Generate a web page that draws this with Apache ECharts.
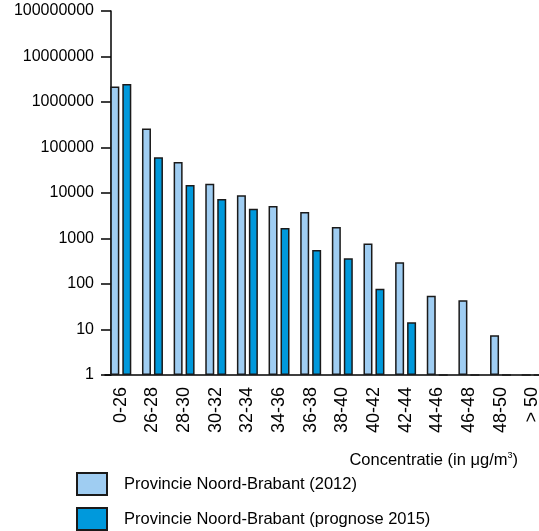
<!DOCTYPE html>
<html><head><meta charset="utf-8">
<script src="https://cdn.jsdelivr.net/npm/echarts@6/dist/echarts.min.js"></script>
<style>html,body{margin:0;padding:0;background:#fff}#c{width:539px;height:531px}</style>
</head><body><div id="c"></div>
<script>
const categories = ['0-26','26-28','28-30','30-32','32-34','34-36','36-38','38-40','40-42','42-44','44-46','46-48','48-50','> 50'];
const values2012 = [2200000, 260000, 48000, 16000, 8900, 5200, 3800, 1800, 780, 300, 55, 44, 7.5, 1];
const values2015 = [2500000, 61000, 15000, 7400, 4500, 1700, 560, 366, 79, 14.4, 1, 1, 1, 1];
const seriesNames = ['Provincie Noord-Brabant (2012)', 'Provincie Noord-Brabant (prognose 2015)'];

const FONT = 'Liberation Sans, Arial, sans-serif';
const legendBase = {
  orient: 'vertical', left: 76, padding: 0, itemWidth: 30, itemHeight: 22,
  icon: 'rect',
  textStyle: {fontFamily: FONT, fontSize: 16.5, color: '#000', padding: [0, 0, 0, 12]}
};
const chart = echarts.init(document.getElementById('c'), null, {renderer: 'canvas'});
chart.setOption({
  animation: false,
  backgroundColor: '#fff',
  grid: {left: 105, width: 443, top: 11, bottom: 156, containLabel: false, outerBoundsMode: 'none'},
  legend: [
    Object.assign({}, legendBase, {top: 472, data: [seriesNames[0]]}),
    Object.assign({}, legendBase, {top: 507, data: [seriesNames[1]]})
  ],
  xAxis: {
    type: 'category', data: categories, boundaryGap: true,
    axisLine: {lineStyle: {color: '#000', width: 1.5}},
    axisTick: {show: false},
    axisLabel: {rotate: 90, margin: 12, fontSize: 18, fontFamily: FONT, color: '#000', interval: 0}
  },
  yAxis: {
    type: 'log', logBase: 10, min: 1, max: 100000000, interval: 1, offset: -6,
    axisLine: {show: true, lineStyle: {color: '#000', width: 1.5}},
    axisTick: {show: true, length: 10, lineStyle: {color: '#000', width: 1.5}},
    splitLine: {show: false},
    axisLabel: {margin: 17, fontSize: 16, fontFamily: FONT, color: '#000',
      formatter: v => String(Math.round(v))}
  },
  series: [
    {name: seriesNames[0], type: 'bar', data: values2012, barWidth: 9, barGap: '33%',
     itemStyle: {color: '#9fcdf2', borderColor: '#1a1a1a', borderWidth: 1.5}},
    {name: seriesNames[1], type: 'bar', data: values2015, barWidth: 9,
     itemStyle: {color: '#0099dc', borderColor: '#1a1a1a', borderWidth: 1.5}}
  ],
  graphic: [{
    type: 'text', x: 518, y: 469,
    style: {
      text: '{a|Concentratie (in μg/m}{s|3}{a|)}',
      align: 'right', verticalAlign: 'bottom',
      rich: {
        a: {fontFamily: FONT, fontSize: 16.5, fill: '#000', verticalAlign: 'bottom'},
        s: {fontFamily: FONT, fontSize: 9, fill: '#000', verticalAlign: 'top', padding: [0, 0, 9, 0]}
      }
    }
  }]
});
</script></body></html>
